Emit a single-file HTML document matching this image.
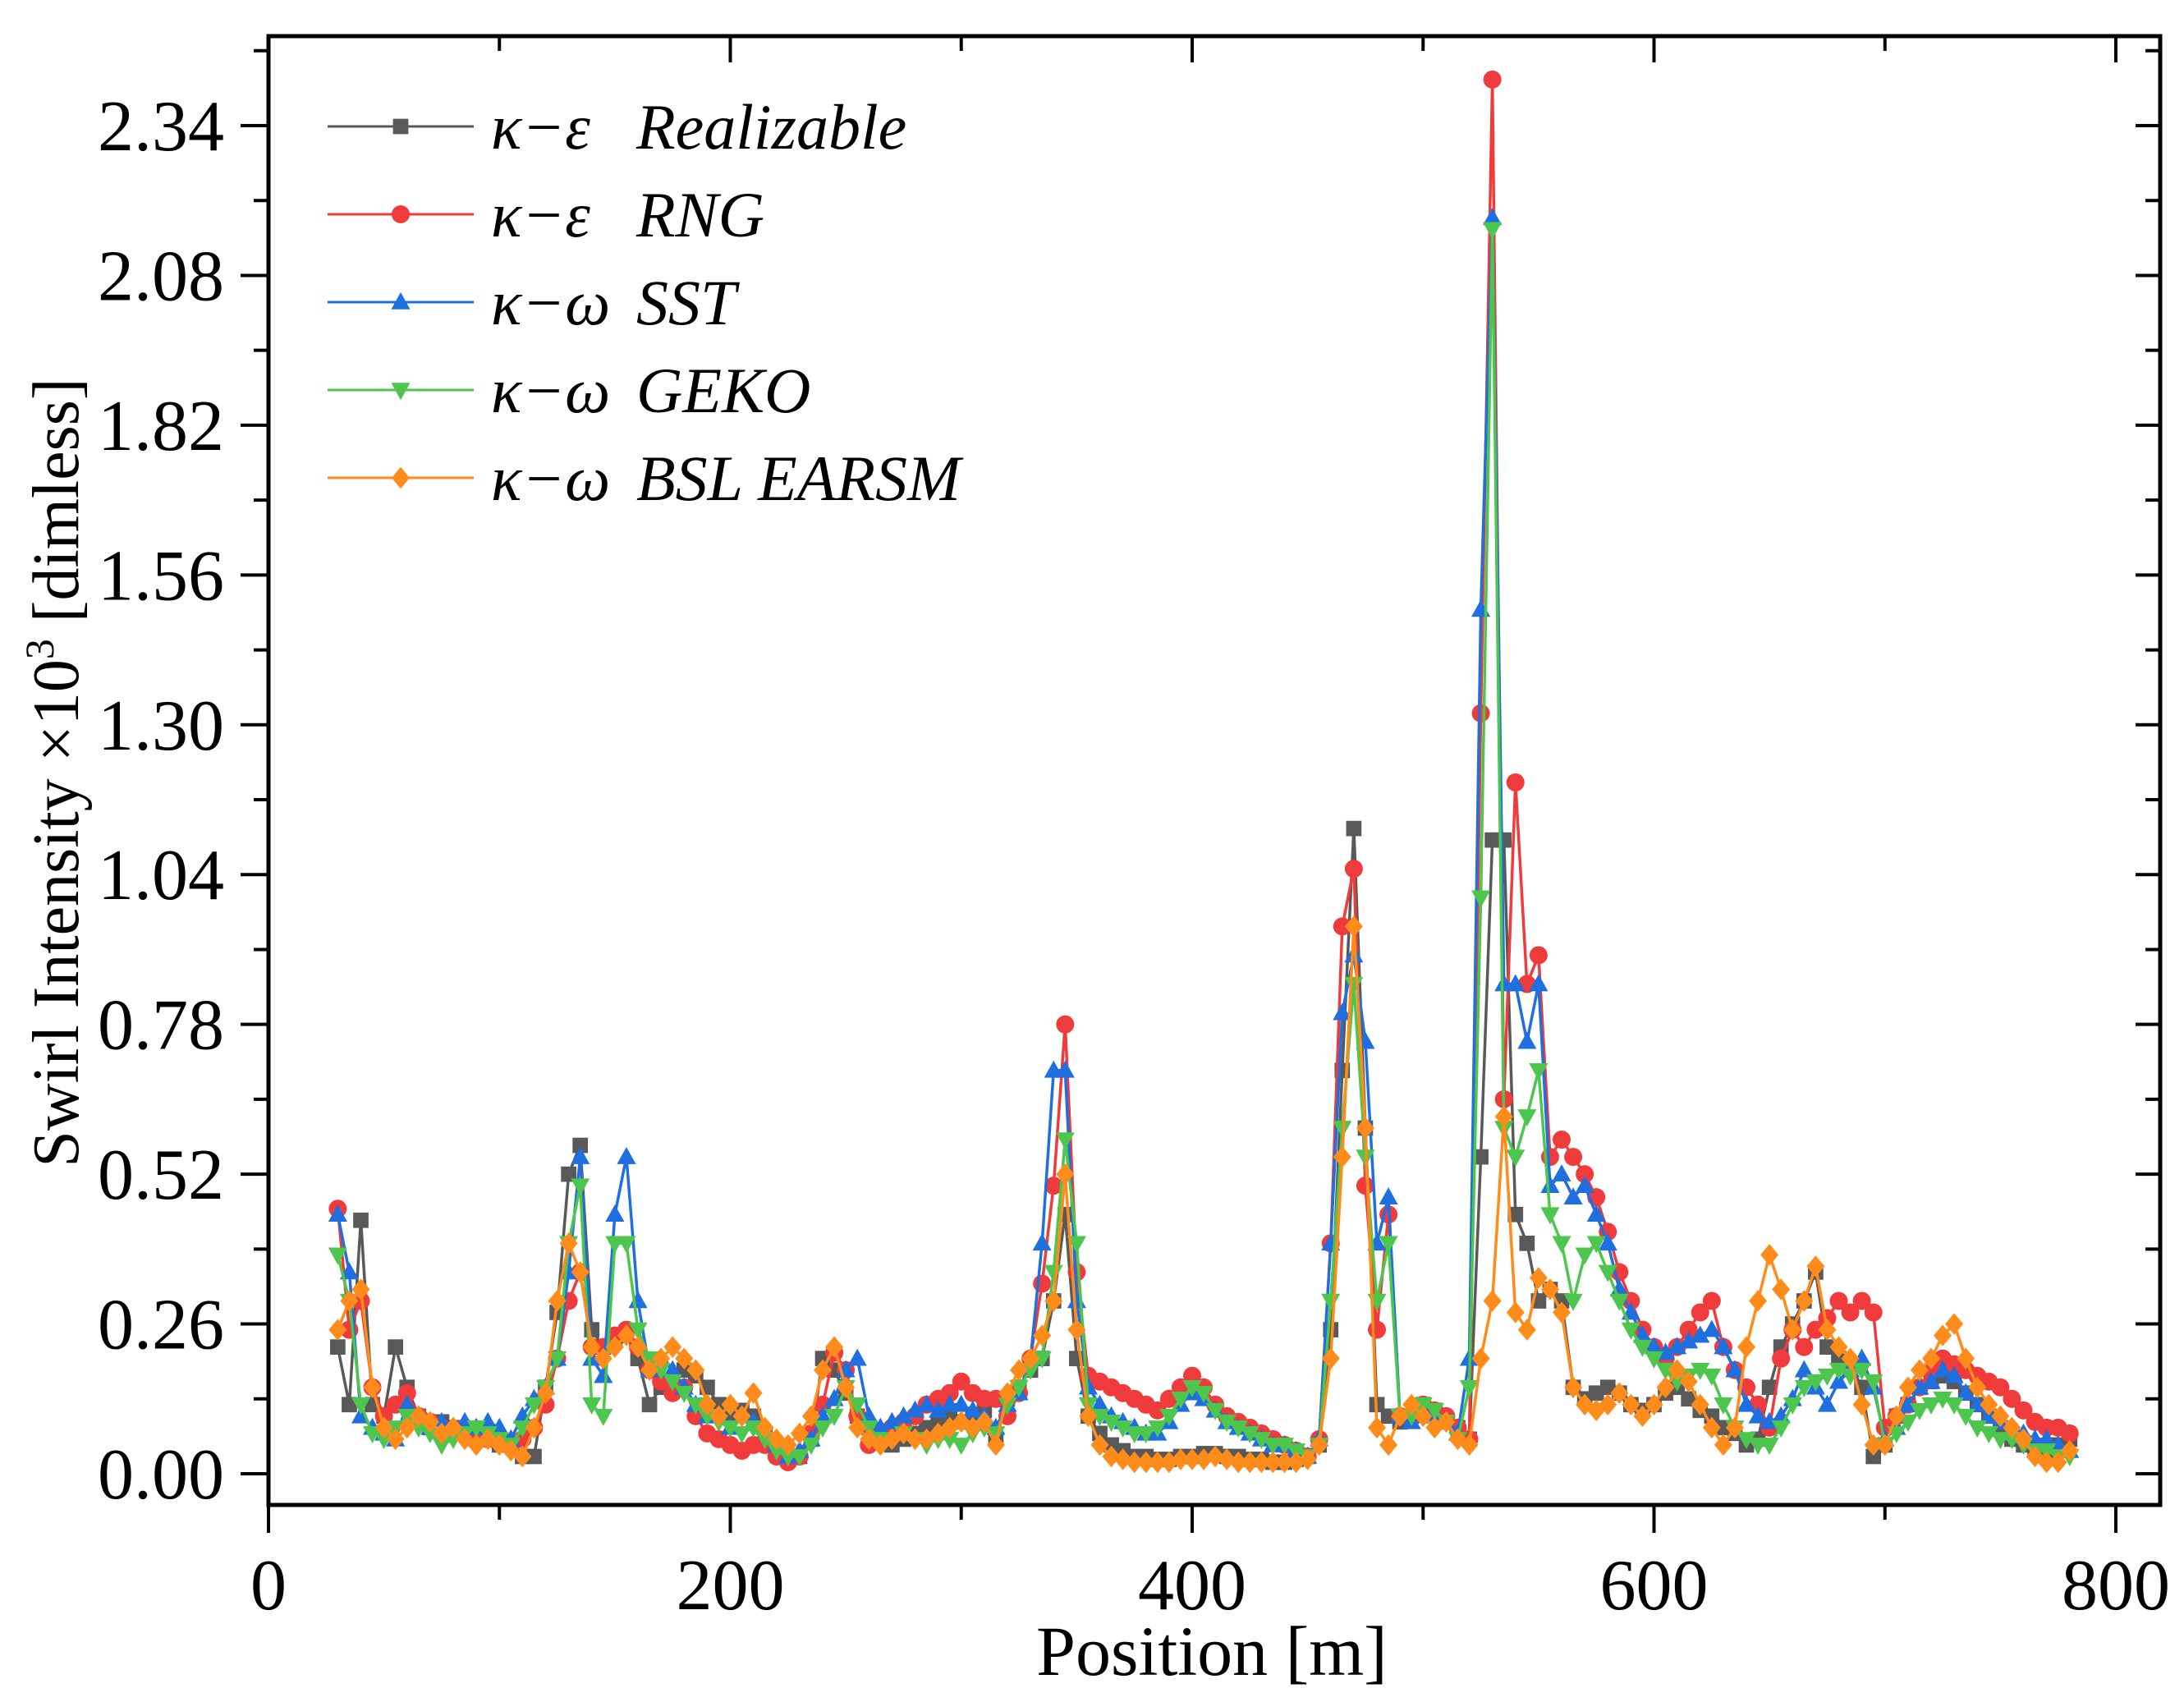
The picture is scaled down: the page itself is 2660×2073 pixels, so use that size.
<!DOCTYPE html>
<html><head><meta charset="utf-8">
<style>
html,body{margin:0;padding:0;background:#fff;}
svg{display:block;font-family:"Liberation Serif",serif;}
</style></head>
<body>
<svg id="chart" width="2660" height="2073" viewBox="0 0 2660 2073" xmlns="http://www.w3.org/2000/svg">
<g id="series"></g>
<g id="axes"></g>
<g id="legend"></g>
</svg>
<script>
const positions = [30,35,40,45,50,55,60,65,70,75,80,85,90,95,100,105,110,115,120,125,130,135,140,145,150,155,160,165,170,175,180,185,190,195,200,205,210,215,220,225,230,235,240,245,250,255,260,265,270,275,280,285,290,295,300,305,310,315,320,325,330,335,340,345,350,355,360,365,370,375,380,385,390,395,400,405,410,415,420,425,430,435,440,445,450,455,460,465,470,475,480,485,490,495,500,505,510,515,520,525,530,535,540,545,550,555,560,565,570,575,580,585,590,595,600,605,610,615,620,625,630,635,640,645,650,655,660,665,670,675,680,685,690,695,700,705,710,715,720,725,730,735,740,745,750,755,760,765,770,775,780];
const realizable = [.22,.12,.44,.12,.10,.22,.15,.10,.08,.09,.08,.07,.06,.06,.05,.05,.03,.03,.15,.28,.52,.57,.25,.22,.23,.24,.20,.12,.15,.16,.18,.17,.15,.12,.10,.11,.10,.07,.04,.03,.03,.06,.20,.18,.14,.10,.08,.06,.05,.06,.07,.08,.09,.10,.09,.10,.11,.06,.13,.15,.18,.20,.30,.45,.20,.10,.07,.05,.04,.03,.03,.025,.025,.03,.03,.035,.035,.03,.03,.025,.025,.02,.02,.025,.03,.05,.25,.70,1.12,.60,.12,.10,.09,.10,.12,.11,.09,.08,.06,.55,1.10,1.10,.45,.40,.30,.32,.30,.15,.13,.14,.15,.14,.12,.11,.12,.14,.15,.13,.11,.10,.08,.07,.05,.06,.15,.22,.26,.30,.35,.22,.20,.19,.15,.03,.05,.10,.12,.15,.16,.17,.16,.14,.12,.10,.08,.06,.05,.04,.04,.05,.06];
const rng = [.46,.25,.30,.15,.10,.12,.14,.10,.09,.08,.07,.08,.07,.06,.06,.05,.06,.08,.12,.20,.30,.35,.22,.22,.24,.25,.22,.18,.16,.14,.15,.10,.07,.06,.05,.04,.05,.05,.03,.02,.03,.07,.12,.21,.18,.10,.05,.07,.08,.09,.10,.12,.13,.14,.16,.14,.13,.13,.10,.14,.20,.33,.50,.78,.35,.17,.16,.15,.14,.13,.12,.11,.13,.15,.17,.15,.12,.10,.09,.08,.07,.06,.05,.04,.03,.06,.40,.95,1.05,.50,.25,.45,.10,.10,.12,.11,.10,.08,.06,1.32,2.42,.65,1.20,.85,.90,.55,.58,.55,.52,.48,.42,.35,.30,.25,.22,.20,.22,.25,.28,.30,.22,.18,.15,.12,.08,.20,.25,.22,.25,.27,.30,.28,.30,.28,.08,.10,.12,.15,.18,.20,.19,.18,.17,.16,.15,.13,.11,.09,.08,.08,.07];
const sst = [.45,.35,.10,.08,.07,.06,.12,.10,.08,.09,.08,.09,.08,.09,.08,.06,.10,.13,.15,.20,.35,.55,.20,.17,.45,.55,.30,.18,.20,.18,.15,.12,.10,.10,.08,.10,.09,.08,.05,.03,.04,.06,.10,.13,.18,.20,.10,.08,.09,.10,.11,.12,.11,.12,.12,.11,.10,.08,.12,.14,.20,.40,.70,.70,.30,.15,.12,.10,.09,.08,.07,.07,.09,.12,.14,.13,.11,.09,.08,.07,.06,.05,.05,.04,.03,.06,.40,.80,.90,.75,.40,.48,.10,.09,.11,.10,.09,.07,.20,1.50,2.18,.85,.85,.75,.85,.50,.52,.48,.50,.45,.40,.32,.28,.24,.22,.21,.22,.23,.24,.25,.22,.18,.12,.10,.09,.10,.13,.18,.15,.12,.16,.18,.20,.15,.06,.08,.12,.15,.16,.18,.17,.14,.12,.10,.09,.08,.07,.06,.06,.05,.04];
const geko = [.38,.30,.12,.07,.06,.08,.10,.08,.07,.05,.06,.07,.08,.07,.06,.05,.08,.12,.15,.20,.40,.50,.12,.10,.40,.40,.25,.20,.18,.16,.14,.12,.10,.09,.08,.07,.08,.06,.04,.03,.03,.05,.08,.10,.15,.12,.08,.06,.06,.07,.06,.05,.06,.06,.05,.07,.08,.07,.12,.15,.18,.20,.35,.58,.40,.12,.10,.09,.08,.07,.07,.08,.10,.13,.15,.14,.11,.09,.08,.07,.06,.05,.05,.04,.03,.05,.30,.60,.85,.55,.30,.40,.10,.10,.12,.11,.09,.06,.15,1.00,2.16,.60,.55,.62,.70,.45,.40,.30,.38,.40,.35,.30,.25,.22,.20,.18,.16,.17,.18,.17,.12,.08,.06,.05,.05,.08,.12,.15,.16,.17,.18,.17,.18,.16,.05,.07,.09,.11,.12,.13,.12,.10,.08,.07,.06,.06,.05,.04,.04,.03,.03];
const earsm = [.25,.30,.32,.15,.08,.06,.08,.10,.09,.07,.08,.06,.05,.06,.05,.04,.03,.08,.14,.30,.40,.35,.22,.20,.22,.24,.22,.18,.20,.22,.20,.18,.12,.10,.12,.10,.14,.08,.06,.05,.07,.10,.18,.22,.15,.08,.06,.05,.06,.07,.06,.06,.07,.08,.09,.08,.09,.05,.14,.18,.20,.24,.30,.52,.25,.10,.05,.03,.025,.02,.02,.02,.02,.025,.025,.025,.03,.025,.02,.02,.02,.02,.02,.02,.025,.05,.20,.55,.95,.60,.08,.05,.10,.12,.10,.08,.09,.06,.05,.20,.30,.62,.28,.25,.34,.32,.28,.15,.12,.11,.12,.14,.12,.10,.12,.15,.18,.16,.12,.08,.05,.08,.22,.30,.38,.32,.25,.30,.36,.25,.22,.20,.12,.05,.05,.10,.15,.18,.20,.24,.26,.20,.15,.12,.10,.08,.06,.03,.02,.02,.04];
const xTicks = [0,200,400,600,800];
const yTicks = [0.00,0.26,0.52,0.78,1.04,1.30,1.56,1.82,2.08,2.34];
const seriesNames = ["realizable","rng","sst","geko","bsl-earsm"];

const NS="http://www.w3.org/2000/svg";
const X0=327, X1=2631, Y0=44, Y1=1833;
function xs(p){return 327+p*2.8125;}
function ys(v){return 1795-v*701.7;}
function mk(tag,attrs,parent){const e=document.createElementNS(NS,tag);for(const k in attrs)e.setAttribute(k,attrs[k]);parent.appendChild(e);return e;}

const colors=["#595959","#ef3b3b","#1f6fe0","#4cc64c","#ff8c1a"];
const shapes=["square","circle","up","down","diamond"];
function marker(shape,x,y,c,g,s){
  let el;
  if(shape==="square"){el=mk('rect',{x:x-s*0.85,y:y-s*0.85,width:s*1.7,height:s*1.7,fill:c},g);}
  else if(shape==="circle"){el=mk('circle',{cx:x,cy:y,r:s,fill:c},g);}
  else if(shape==="up"){el=mk('polygon',{points:`${x},${y-s*1.1} ${x-s*1.05},${y+s*0.8} ${x+s*1.05},${y+s*0.8}`,fill:c},g);}
  else if(shape==="down"){el=mk('polygon',{points:`${x},${y+s*1.1} ${x-s*1.05},${y-s*0.8} ${x+s*1.05},${y-s*0.8}`,fill:c},g);}
  else {el=mk('polygon',{points:`${x},${y-s*1.2} ${x+s},${y} ${x},${y+s*1.2} ${x-s},${y}`,fill:c},g);}
  return el;
}
const allSeries=[realizable,rng,sst,geko,earsm];
const sg=document.getElementById('series');
allSeries.forEach((vals,i)=>{
  const g=mk('g',{},sg);
  
  
  const pts=vals.map((v,j)=>xs(positions[j])+','+ys(v)).join(' ');
  const pl=mk('polyline',{points:pts,fill:'none',stroke:colors[i],'stroke-width':3.5},g);
  
  
  vals.forEach((v,j)=>{
    const m=marker(shapes[i],xs(positions[j]),ys(v),colors[i],g,11);
    
    
  });
});

const ag=document.getElementById('axes');
const frame=mk('rect',{x:X0,y:Y0,width:X1-X0,height:Y1-Y0,fill:'none',stroke:'#000','stroke-width':5},ag);


for(let k=0;k<=8;k++){
  const p=k*100, x=xs(p), major=(k%2===0);
  const t=mk('line',{x1:x,y1:Y1,x2:x,y2:Y1+(major?34:18),stroke:'#000','stroke-width':4},ag);
  
  
  const t2=mk('line',{x1:x,y1:Y0,x2:x,y2:Y0+(major?32:18),stroke:'#000','stroke-width':4},ag);
  
  
}
xTicks.forEach(p=>{
  const t=mk('text',{x:xs(p),y:1960,'font-size':88,'text-anchor':'middle',fill:'#000'},ag);
  t.textContent=String(p);
  
  
});
for(let k=0;k<=19;k++){
  const v=k*0.13, y=ys(v), major=(k%2===0);
  if(y<Y0+5) continue;
  const t=mk('line',{x1:X0,y1:y,x2:X0-(major?34:18),y2:y,stroke:'#000','stroke-width':4},ag);
  
  
  const t2=mk('line',{x1:X1,y1:y,x2:X1-(major?30:18),y2:y,stroke:'#000','stroke-width':4},ag);
  
  
}
yTicks.forEach(v=>{
  const t=mk('text',{x:273,y:ys(v)+30,'font-size':88,'text-anchor':'end',fill:'#000'},ag);
  t.textContent=v.toFixed(2);
  
  
});
const xt=mk('text',{x:1476,y:2040,'font-size':86,'text-anchor':'middle',fill:'#000'},ag);
xt.textContent='Position [m]';


const yt=mk('text',{x:0,y:0,'font-size':80,'text-anchor':'middle',fill:'#000',transform:'translate(95,941) rotate(-90)'},ag);
yt.innerHTML='Swirl Intensity ×10<tspan dy="-30" font-size="50">3</tspan><tspan dy="30"> [dimless]</tspan>';



const lg=document.getElementById('legend');
const prefixes=["κ−ε","κ−ε","κ−ω","κ−ω","κ−ω"];
const labels=["Realizable","RNG","SST","GEKO","BSL EARSM"];
const rowsY=[154,261,368,475,582];
labels.forEach((lab,i)=>{
  const g=mk('g',{},lg);
  
  
  mk('line',{x1:399,y1:rowsY[i],x2:577,y2:rowsY[i],stroke:colors[i],'stroke-width':3},g);
  marker(shapes[i],488,rowsY[i],colors[i],g,11);
  const t1=mk('text',{x:598,y:rowsY[i]+27,'font-size':78,'font-style':'italic',fill:'#000'},g);
  t1.textContent=prefixes[i];
  const t2=mk('text',{x:775,y:rowsY[i]+27,'font-size':78,'font-style':'italic',fill:'#000'},g);
  t2.textContent=lab;
});
</script>
</body></html>
